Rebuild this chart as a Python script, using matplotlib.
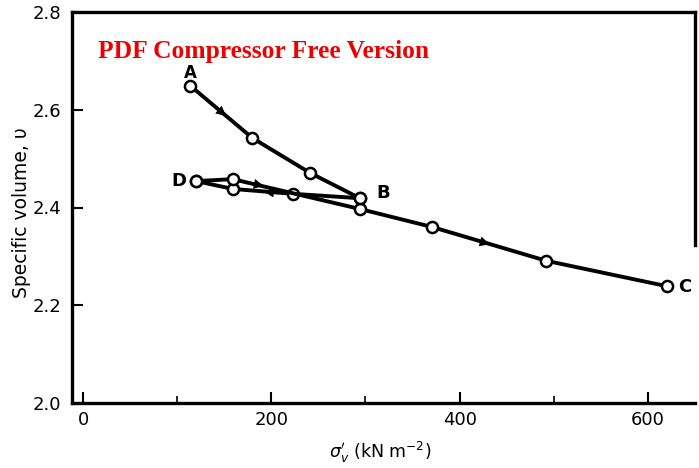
import matplotlib
matplotlib.use("Agg")
import matplotlib.pyplot as plt

# Data (effective vertical stress in kN/m^2, specific volume)
load_AB_x = [114, 180, 241, 294]
load_AB_v = [2.649, 2.542, 2.471, 2.419]

unload_BD_x = [294, 223, 159, 120]
unload_BD_v = [2.419, 2.428, 2.438, 2.454]

reload_DC_x = [120, 159, 294, 371, 492, 620]
reload_DC_v = [2.454, 2.458, 2.397, 2.360, 2.291, 2.239]

point_labels = ["A", "B", "C", "D"]
xticks = [0, 200, 400, 600]
yticks = [2.0, 2.2, 2.4, 2.6, 2.8]

W, H = 699, 468
fig = plt.figure(figsize=(W / 100, H / 100), dpi=100)
ax = fig.add_axes([72 / W, 1 - 403 / H, (695 - 72) / W, (403 - 12) / H])

line_kw = dict(color="black", lw=2.8, marker="o", markersize=8,
               markerfacecolor="white", markeredgecolor="black", markeredgewidth=1.8,
               solid_capstyle="round", zorder=3)
ax.plot(unload_BD_x, unload_BD_v, **line_kw)
ax.plot(reload_DC_x, reload_DC_v, **line_kw)
ax.plot(load_AB_x, load_AB_v, **line_kw)

def arrow(x0, y0, x1, y1):
    ax.annotate("", xy=(x1, y1), xytext=(x0, y0),
                arrowprops=dict(arrowstyle="-|>", mutation_scale=18, color="black",
                                lw=0, shrinkA=0, shrinkB=0), zorder=4)

arrow(140, 2.6066, 152, 2.5872)   # A -> B
arrow(415, 2.3345, 432, 2.3247)   # B -> C
arrow(178, 2.4498, 192, 2.4438)   # D -> B (reload)
arrow(205, 2.4305, 192, 2.4325)   # B -> D (unload)

lab_kw = dict(fontsize=13, fontweight="bold", color="black", family="DejaVu Sans")
ax.text(114, 2.676, point_labels[0], ha="center", va="center",
        **{**lab_kw, "fontsize": 12})
ax.text(312, 2.43, point_labels[1], ha="left", va="center", **lab_kw)
ax.text(632, 2.237, point_labels[2], ha="left", va="center", **lab_kw)
ax.text(110, 2.454, point_labels[3], ha="right", va="center", **lab_kw)

ax.set_xlim(-11.7, 650)
ax.set_ylim(2.0, 2.8)
ax.set_xticks(xticks)
ax.set_xticks([100, 300, 500], minor=True)
ax.set_yticks(yticks)
ax.set_yticklabels(["2.0", "2.2", "2.4", "2.6", "2.8"])
ax.tick_params(axis="both", which="major", direction="in", length=8, width=1.5,
               labelsize=13, pad=6)
ax.tick_params(axis="x", which="minor", direction="in", length=5, width=1.2)
ax.tick_params(axis="y", which="major", pad=8)
for lab in ax.get_xticklabels() + ax.get_yticklabels():
    lab.set_family("DejaVu Sans")

for s in ax.spines.values():
    s.set_linewidth(2.4)
ax.spines["right"].set_bounds(2.323, 2.8)

fig.text(22 / W, 1 - 213 / H, "Specific volume, υ", rotation=90, ha="center",
         va="center", fontsize=13.5, family="DejaVu Sans")
fig.text(380 / W, 1 - 452 / H, r"$\sigma_v'$ (kN m$^{-2}$)", ha="center",
         va="center", fontsize=12.5, family="DejaVu Sans")

fig.text(98 / W, 1 - 58 / H, "PDF Compressor Free Version", color="#ee0000",
         fontsize=18.4, fontweight="bold", family="Liberation Serif",
         ha="left", va="baseline")

fig.savefig("out.png", dpi=100)
